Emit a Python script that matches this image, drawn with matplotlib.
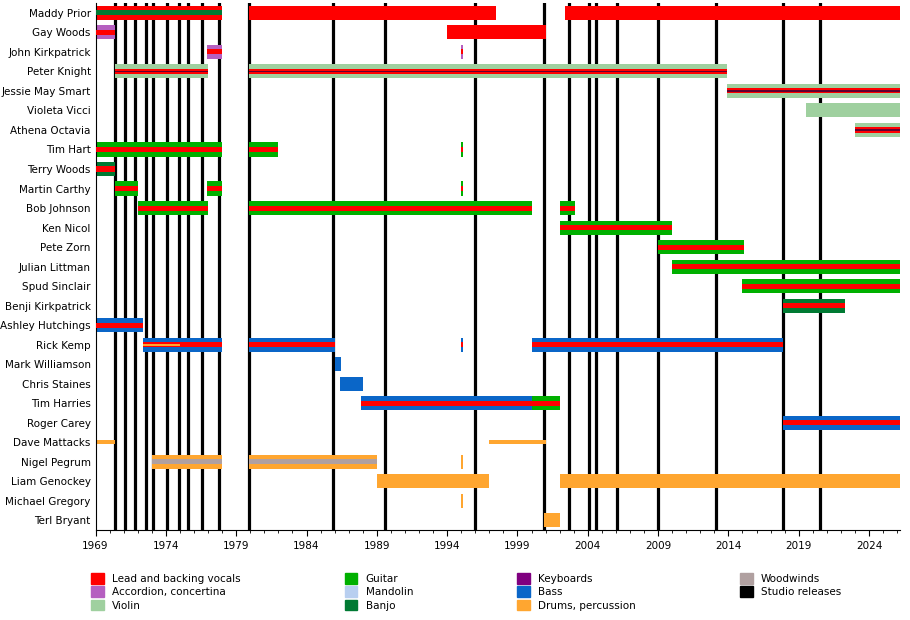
import matplotlib
matplotlib.use("Agg")
import matplotlib.pyplot as plt
from matplotlib.patches import Patch
from matplotlib.lines import Line2D

C = {
    "vox": "#ff0000", "acc": "#b55fc0", "vio": "#9fd09f", "gtr": "#00b000",
    "man": "#b8cff0", "ban": "#007a33", "key": "#800080", "bass": "#0a66c8",
    "drm": "#ffa630", "ww": "#b0a0a0",
}

members = ["Maddy Prior", "Gay Woods", "John Kirkpatrick", "Peter Knight", "Jessie May Smart",
           "Violeta Vicci", "Athena Octavia", "Tim Hart", "Terry Woods", "Martin Carthy",
           "Bob Johnson", "Ken Nicol", "Pete Zorn", "Julian Littman", "Spud Sinclair",
           "Benji Kirkpatrick", "Ashley Hutchings", "Rick Kemp", "Mark Williamson",
           "Chris Staines", "Tim Harries", "Roger Carey", "Dave Mattacks", "Nigel Pegrum",
           "Liam Genockey", "Michael Gregory", "Terl Bryant"]

# (member, start, end, main colour, stripe colour or None)
periods = [
    ("Maddy Prior", 1969.0, 1978.0, "vox", "ban"),
    ("Maddy Prior", 1979.9, 1997.5, "vox", None),
    ("Maddy Prior", 2002.4, 2026.2, "vox", None),
    ("Gay Woods", 1969.0, 1970.4, "acc", "vox"),
    ("Gay Woods", 1994.0, 2001.0, "vox", None),
    ("John Kirkpatrick", 1976.9, 1978.0, "acc", "vox"),
    ("John Kirkpatrick", 1994.95, 1995.1, "acc", "vox"),
    ("Peter Knight", 1970.35, 1977.0, "vio", "vox"),
    ("Peter Knight", 1979.9, 2013.9, "vio", "vox"),
    ("Jessie May Smart", 2013.9, 2026.2, "vio", "vox"),
    ("Violeta Vicci", 2019.5, 2026.2, "vio", None),
    ("Athena Octavia", 2023.0, 2026.2, "vio", "vox"),
    ("Tim Hart", 1969.0, 1978.0, "gtr", "vox"),
    ("Tim Hart", 1979.9, 1982.0, "gtr", "vox"),
    ("Tim Hart", 1994.95, 1995.1, "gtr", "vox"),
    ("Terry Woods", 1969.0, 1970.4, "ban", "vox"),
    ("Martin Carthy", 1970.35, 1972.0, "gtr", "vox"),
    ("Martin Carthy", 1976.9, 1978.0, "gtr", "vox"),
    ("Martin Carthy", 1994.95, 1995.1, "gtr", "vox"),
    ("Bob Johnson", 1972.0, 1977.0, "gtr", "vox"),
    ("Bob Johnson", 1979.9, 2000.0, "gtr", "vox"),
    ("Bob Johnson", 2002.0, 2003.1, "gtr", "vox"),
    ("Ken Nicol", 2002.0, 2010.0, "gtr", "vox"),
    ("Pete Zorn", 2009.0, 2015.1, "gtr", "vox"),
    ("Julian Littman", 2010.0, 2026.2, "gtr", "vox"),
    ("Spud Sinclair", 2015.0, 2026.2, "gtr", "vox"),
    ("Benji Kirkpatrick", 2017.9, 2022.3, "ban", "vox"),
    ("Ashley Hutchings", 1969.0, 1972.4, "bass", "vox"),
    ("Rick Kemp", 1972.35, 1978.0, "bass", "vox"),
    ("Rick Kemp", 1979.9, 1986.0, "bass", "vox"),
    ("Rick Kemp", 1994.95, 1995.1, "bass", "vox"),
    ("Rick Kemp", 2000.0, 2017.9, "bass", "vox"),
    ("Mark Williamson", 1986.0, 1986.45, "bass", None),
    ("Chris Staines", 1986.4, 1988.0, "bass", None),
    ("Tim Harries", 1987.9, 2000.0, "bass", "vox"),
    ("Tim Harries", 2000.0, 2002.0, "gtr", "vox"),
    ("Roger Carey", 2017.9, 2026.2, "bass", "vox"),
    ("Nigel Pegrum", 1973.0, 1978.0, "drm", "ww"),
    ("Nigel Pegrum", 1979.9, 1989.0, "drm", "ww"),
    ("Nigel Pegrum", 1994.95, 1995.1, "drm", None),
    ("Liam Genockey", 1989.0, 1997.0, "drm", None),
    ("Liam Genockey", 2002.0, 2026.2, "drm", None),
    ("Michael Gregory", 1994.95, 1995.1, "drm", None),
    ("Terl Bryant", 2000.9, 2002.0, "drm", None),
]
# thin bars (session / occasional)
thin = [("Dave Mattacks", 1969.0, 1970.4, "drm"), ("Dave Mattacks", 1997.0, 2001.0, "drm")]
extra = [("Rick Kemp", 1972.35, 1975.0, "drm")]  # thin drum stripe over vocals

releases = [1970.4, 1971.1, 1971.8, 1972.6, 1973.1, 1974.05, 1974.9, 1975.6, 1976.6,
            1977.75, 1979.9, 1985.9, 1989.6, 1996.0, 2000.9, 2002.7, 2004.1, 2004.6,
            2006.1, 2009.0, 2013.1, 2017.9, 2020.5]

fig = plt.figure(figsize=(9.1, 6.2), dpi=100)
ax = fig.add_axes([0.105, 0.145, 0.884, 0.85])
ypos = {m: i for i, m in enumerate(members)}

for r in releases:
    ax.axvline(r, color="black", lw=2.3, zorder=1)

for m, s, e, mc, sc in periods:
    y = ypos[m]
    ax.barh(y, e - s, left=s, height=0.72, color=C[mc], zorder=2, linewidth=0)
    if sc:
        ax.barh(y, e - s, left=s, height=0.26, color=C[sc], zorder=3, linewidth=0)
    if mc in ("vio",) and sc:
        ax.barh(y, e - s, left=s, height=0.06, color="#600030", zorder=4, linewidth=0)
for m, s, e, mc in thin:
    ax.barh(ypos[m], e - s, left=s, height=0.22, color=C[mc], zorder=2, linewidth=0)
for m, s, e, mc in extra:
    ax.barh(ypos[m], e - s, left=s, height=0.12, color=C[mc], zorder=4, linewidth=0)

ax.set_xlim(1969, 2026.2)
ax.set_ylim(len(members) - 0.5, -0.5)
ax.set_yticks(range(len(members)))
ax.set_yticklabels(members, fontsize=7.5)
ax.set_xticks(range(1969, 2027, 5))
ax.set_xticks(range(1969, 2027), minor=True)
ax.tick_params(axis="x", labelsize=7.5, length=4)
ax.tick_params(axis="x", which="minor", length=2)
ax.tick_params(axis="y", length=0)
for sp in ["top", "right"]:
    ax.spines[sp].set_visible(False)

labels = [("Lead and backing vocals", "vox"), ("Accordion, concertina", "acc"), ("Violin", "vio"),
          ("Guitar", "gtr"), ("Mandolin", "man"), ("Banjo", "ban"),
          ("Keyboards", "key"), ("Bass", "bass"), ("Drums, percussion", "drm"),
          ("Woodwinds", "ww")]
handles = [Patch(color=C[k], label=l) for l, k in labels]
handles.append(Patch(color="black", label="Studio releases"))
fig.legend(handles=handles, ncol=4, loc="lower left", bbox_to_anchor=(0.09, 0.0),
           frameon=False, fontsize=7.5, handlelength=1.2, handleheight=1.2,
           columnspacing=10, labelspacing=0.25)

fig.savefig("out.png", dpi=100)
